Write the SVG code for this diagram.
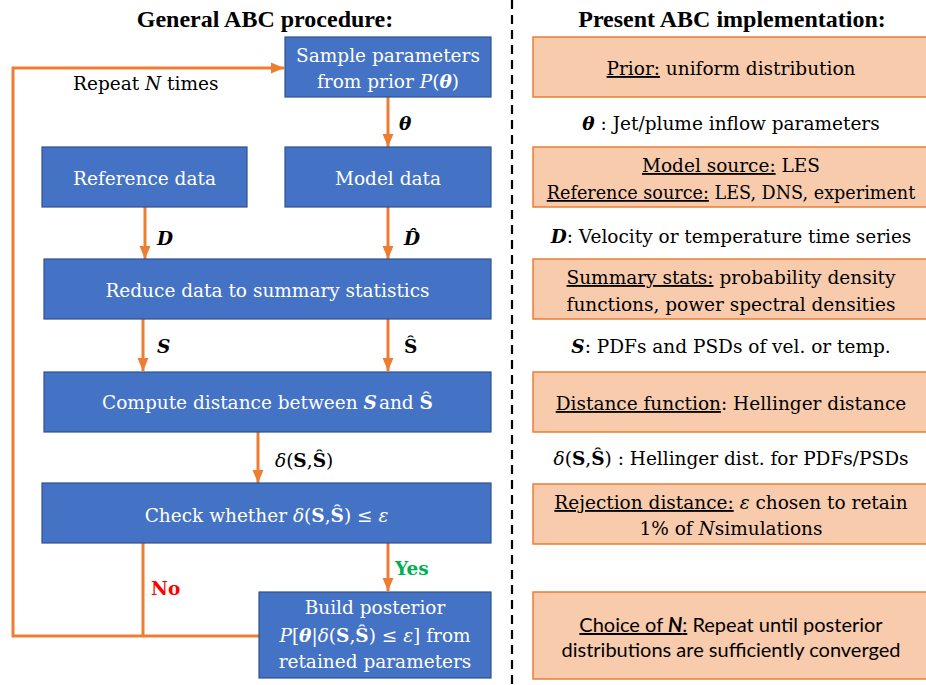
<svg xmlns="http://www.w3.org/2000/svg" width="926" height="685" viewBox="0 0 926 685">
<style>
text{font-family:"DejaVu Serif","Liberation Serif",serif;font-size:18.5px;fill:#000}
.w{fill:#fff}
.t{font-family:"Liberation Serif",serif;font-size:24px;font-weight:bold}
.bi{font-weight:bold;font-style:italic}
.b{font-weight:bold}
.i{font-style:italic}
.u{text-decoration:underline}
.blue{fill:#4472C4;stroke:#2F528F;stroke-width:1.2}
.peach{fill:#F8CBAD;stroke:#ED7D31;stroke-width:1.5}
.c{fill:none;stroke:#ED7D31;stroke-width:3}
.sans{font-family:Lato,"Liberation Sans",sans-serif;font-size:20px}
</style>
<defs>
<marker id="ah" markerUnits="userSpaceOnUse" markerWidth="14" markerHeight="14" viewBox="0 0 14 14" refX="13" refY="7" orient="auto">
<path d="M0,1.5 L13,7 L0,12.5 z" fill="#ED7D31"/>
</marker>
</defs>
<rect width="926" height="685" fill="#fff"/>
<text class="t" x="265" y="27" text-anchor="middle">General ABC procedure:</text>
<text class="t" x="732" y="27" text-anchor="middle">Present ABC implementation:</text>
<line x1="512" y1="0" x2="512" y2="685" stroke="#000" stroke-width="2.2" stroke-dasharray="9,6"/>

<g id="connectors">
<path class="c" d="M259 636 H13 V68 H284" marker-end="url(#ah)"/>
<path class="c" d="M143 543 V636"/>
<path class="c" d="M388 97 V147" marker-end="url(#ah)"/>
<path class="c" d="M145 207 V259" marker-end="url(#ah)"/>
<path class="c" d="M388 207 V259" marker-end="url(#ah)"/>
<path class="c" d="M143 319 V371" marker-end="url(#ah)"/>
<path class="c" d="M388 319 V371" marker-end="url(#ah)"/>
<path class="c" d="M258 432 V483" marker-end="url(#ah)"/>
<path class="c" d="M388 543 V591" marker-end="url(#ah)"/>
<text x="73" y="90">Repeat <tspan class="i">N</tspan> times</text>
<text x="399" y="130" class="bi">θ</text>
<text x="157" y="245" class="bi">D</text>
<text x="404" y="245" class="bi">D̂</text>
<text x="157" y="353" class="bi">S</text>
<text x="404" y="353" class="b">Ŝ</text>
<text x="275" y="467"><tspan class="i">δ</tspan>(<tspan class="b">S</tspan>,<tspan class="b">Ŝ</tspan>)</text>
<text x="151" y="595" class="b" style="fill:#FF0000">No</text>
<text x="395" y="575" class="b" style="fill:#00B050">Yes</text>
</g>

<g id="sample">
<rect class="blue" x="285" y="37" width="206" height="60"/>
<text class="w" x="388" y="62" text-anchor="middle">Sample parameters</text>
<text class="w" x="388" y="88" text-anchor="middle">from prior <tspan class="i">P</tspan>(<tspan class="bi">θ</tspan>)</text>
</g>
<g id="refdata">
<rect class="blue" x="42" y="147" width="205" height="60"/>
<text class="w" x="144.5" y="185" text-anchor="middle">Reference data</text>
</g>
<g id="modeldata">
<rect class="blue" x="285" y="147" width="206" height="60"/>
<text class="w" x="388" y="185" text-anchor="middle">Model data</text>
</g>
<g id="reduce">
<rect class="blue" x="44" y="259" width="447" height="60"/>
<text class="w" x="267.5" y="297" text-anchor="middle">Reduce data to summary statistics</text>
</g>
<g id="compute">
<rect class="blue" x="44" y="372" width="447" height="60"/>
<text class="w" x="267.5" y="409" text-anchor="middle">Compute distance between <tspan class="bi">S</tspan><tspan dx="2">and </tspan><tspan class="b">Ŝ</tspan></text>
</g>
<g id="check">
<rect class="blue" x="42" y="483" width="449" height="60"/>
<text class="w" x="266.5" y="522" text-anchor="middle">Check whether <tspan class="i">δ</tspan>(<tspan class="b">S</tspan>,<tspan class="b">Ŝ</tspan>) ≤ <tspan class="i">ε</tspan></text>
</g>
<g id="build">
<rect class="blue" x="259" y="592" width="232" height="86"/>
<text class="w" x="375" y="614" text-anchor="middle">Build posterior</text>
<text class="w" x="375" y="642" text-anchor="middle"><tspan class="i">P</tspan>[<tspan class="bi">θ</tspan>|<tspan class="i">δ</tspan>(<tspan class="b">S</tspan>,<tspan class="b">Ŝ</tspan>) ≤ <tspan class="i">ε</tspan>] from</text>
<text class="w" x="375" y="668" text-anchor="middle">retained parameters</text>
</g>

<g id="prior">
<rect class="peach" x="533" y="37" width="400" height="60"/>
<text x="731" y="75" text-anchor="middle"><tspan class="u">Prior:</tspan> uniform distribution</text>
</g>
<text x="731" y="130" text-anchor="middle"><tspan class="bi">θ</tspan> : Jet/plume inflow parameters</text>
<g id="sources">
<rect class="peach" x="533" y="147" width="400" height="60"/>
<text x="731" y="172" text-anchor="middle"><tspan class="u">Model source:</tspan> LES</text>
<text x="731" y="199" text-anchor="middle" style="font-size:17.6px"><tspan class="u">Reference source:</tspan> LES, DNS, experiment</text>
</g>
<text x="731" y="243" text-anchor="middle"><tspan class="bi">D</tspan>: Velocity or temperature time series</text>
<g id="stats">
<rect class="peach" x="533" y="259" width="400" height="60"/>
<text x="731" y="284" text-anchor="middle"><tspan class="u">Summary stats:</tspan> probability density</text>
<text x="731" y="311" text-anchor="middle">functions, power spectral densities</text>
</g>
<text x="731" y="353" text-anchor="middle"><tspan class="bi">S</tspan>: PDFs and PSDs of  vel. or temp.</text>
<g id="distfn">
<rect class="peach" x="533" y="372" width="400" height="60"/>
<text x="731" y="410" text-anchor="middle"><tspan class="u">Distance function</tspan>: Hellinger distance</text>
</g>
<text x="731" y="465" text-anchor="middle"><tspan class="i">δ</tspan>(<tspan class="b">S</tspan>,<tspan class="b">Ŝ</tspan>) : Hellinger dist. for PDFs/PSDs</text>
<g id="rejection">
<rect class="peach" x="533" y="484" width="400" height="60"/>
<text x="731" y="509" text-anchor="middle"><tspan class="u">Rejection distance:</tspan> <tspan class="i">ε</tspan> chosen to retain</text>
<text x="731" y="535" text-anchor="middle">1% of <tspan class="i">N</tspan>simulations</text>
</g>
<g id="choice">
<rect class="peach" x="533" y="592" width="400" height="87"/>
<text class="sans" x="731" y="632" text-anchor="middle"><tspan class="u">Choice of <tspan class="bi">N</tspan>:</tspan> Repeat until posterior</text>
<text class="sans" x="731" y="657" text-anchor="middle">distributions are sufficiently converged</text>
</g>
</svg>
